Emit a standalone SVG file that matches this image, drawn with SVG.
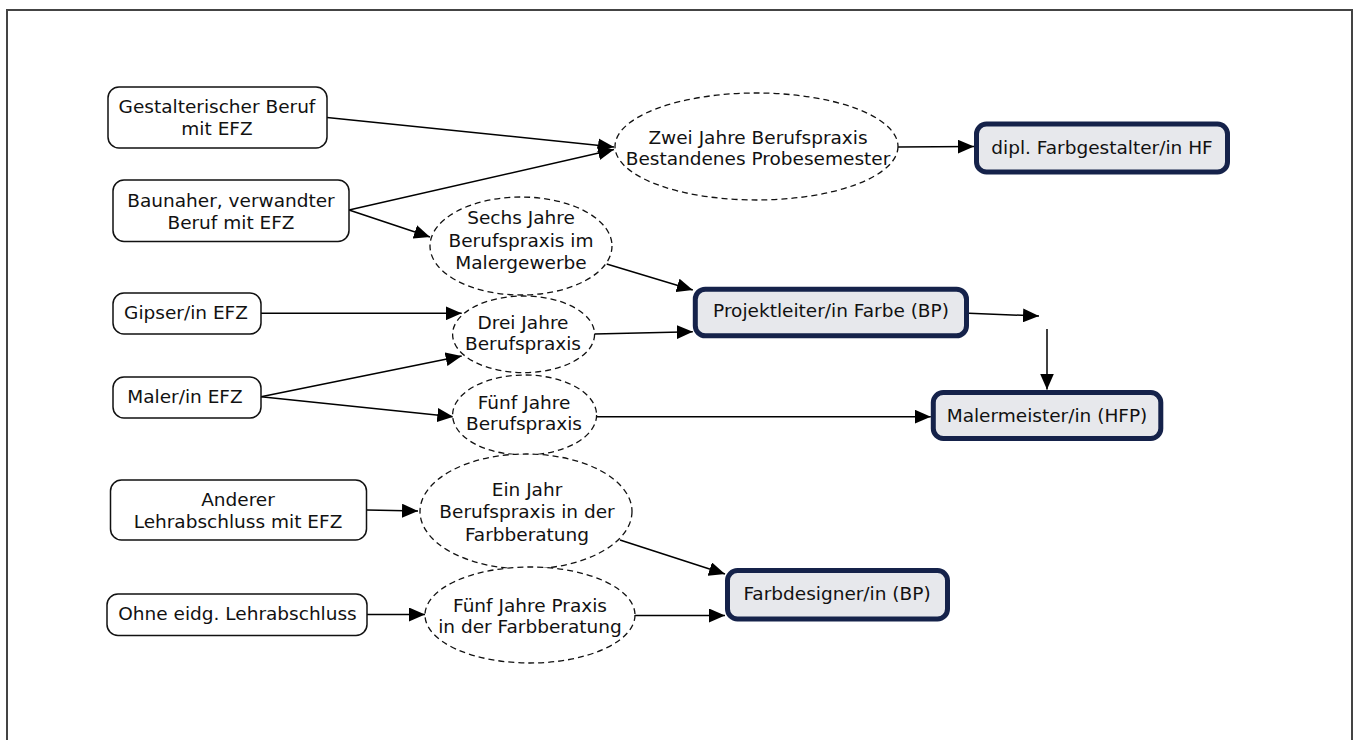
<svg xmlns="http://www.w3.org/2000/svg" width="1358" height="740" viewBox="0 0 1358 740">
<style>
  text { font-family: "DejaVu Sans", Verdana, sans-serif; font-size: 18.5px; fill: #111; text-anchor: middle; }
  .src { fill: #fff; stroke: #111; stroke-width: 1.5; }
  .cond { fill: #fff; stroke: #111; stroke-width: 1.3; stroke-dasharray: 6 4; }
  .goal { fill: #e7e8ec; stroke: #15224a; stroke-width: 5; }
  .edge { fill: none; stroke: #000; stroke-width: 1.5; marker-end: url(#arr); }
</style>
<defs>
  <marker id="arr" markerUnits="userSpaceOnUse" markerWidth="17" markerHeight="14" refX="16" refY="7" orient="auto">
    <path d="M0,0 L16,7 L0,14 z" fill="#000"/>
  </marker>
</defs>
<rect width="1358" height="740" fill="#fff"/>
<path d="M7,745 L7,10 L1352,10 L1352,745" fill="none" stroke="#444" stroke-width="2"/>

<g id="connectors">
  <path class="edge" d="M327,117.5 L614,147"/>
  <path class="edge" d="M349,210 L614,149.5"/>
  <path class="edge" d="M349,210 L430,237"/>
  <path class="edge" d="M898,147 L974,146.5"/>
  <path class="edge" d="M606.7,264 L692.8,290"/>
  <path class="edge" d="M261,313.3 L461.7,313.3"/>
  <path class="edge" d="M261,396.7 L461.7,356"/>
  <path class="edge" d="M261,396.7 L453.3,416.7"/>
  <path class="edge" d="M594.4,334 L692.8,331.7"/>
  <path class="edge" d="M969,313.3 L1039,316"/>
  <path class="edge" d="M1047,329 L1047,389.5"/>
  <path class="edge" d="M596.4,416.7 L930.8,416.7"/>
  <path class="edge" d="M367,510 L418,511"/>
  <path class="edge" d="M367,614.5 L425,614.5"/>
  <path class="edge" d="M620,540 L725,574"/>
  <path class="edge" d="M635,615.5 L725,615.5"/>
</g>

<g id="n-gestalterisch">
  <rect class="src" x="108" y="87" width="219" height="61" rx="11"/>
  <text x="217" y="113">Gestalterischer Beruf</text>
  <text x="217" y="135">mit EFZ</text>
</g>
<g id="n-baunaher">
  <rect class="src" x="113" y="180" width="236" height="61.5" rx="11"/>
  <text x="231" y="207">Baunaher, verwandter</text>
  <text x="231" y="229">Beruf mit EFZ</text>
</g>
<g id="n-gipser">
  <rect class="src" x="113" y="293" width="148" height="41" rx="11"/>
  <text x="186" y="319">Gipser/in EFZ</text>
</g>
<g id="n-maler">
  <rect class="src" x="113" y="377" width="148" height="41" rx="11"/>
  <text x="185" y="403">Maler/in EFZ</text>
</g>
<g id="n-anderer">
  <rect class="src" x="110.5" y="480" width="256" height="60" rx="11"/>
  <text x="238" y="505.5">Anderer</text>
  <text x="238" y="527.5">Lehrabschluss mit EFZ</text>
</g>
<g id="n-ohne">
  <rect class="src" x="107" y="594" width="260" height="41.5" rx="11"/>
  <text x="237.5" y="620">Ohne eidg. Lehrabschluss</text>
</g>

<g id="c-zwei">
  <ellipse class="cond" cx="756.5" cy="146.5" rx="141.5" ry="53.5"/>
  <text x="758" y="144">Zwei Jahre Berufspraxis</text>
  <text x="758" y="165">Bestandenes Probesemester</text>
</g>
<g id="c-sechs">
  <ellipse class="cond" cx="521" cy="246" rx="91" ry="49"/>
  <text x="521" y="224">Sechs Jahre</text>
  <text x="521" y="246.5">Berufspraxis im</text>
  <text x="521" y="269">Malergewerbe</text>
</g>
<g id="c-drei">
  <ellipse class="cond" cx="523.6" cy="334.3" rx="71" ry="38.3"/>
  <text x="523" y="328.5">Drei Jahre</text>
  <text x="523" y="350">Berufspraxis</text>
</g>
<g id="c-fuenf">
  <ellipse class="cond" cx="524.6" cy="415" rx="72" ry="40"/>
  <text x="524" y="408.5">Fünf Jahre</text>
  <text x="524" y="430">Berufspraxis</text>
</g>
<g id="c-einjahr">
  <ellipse class="cond" cx="526" cy="511.5" rx="106" ry="57.5"/>
  <text x="527" y="496">Ein Jahr</text>
  <text x="527" y="518">Berufspraxis in der</text>
  <text x="527" y="540.5">Farbberatung</text>
</g>
<g id="c-fuenfpraxis">
  <ellipse class="cond" cx="530" cy="615" rx="105" ry="48"/>
  <text x="530" y="611.5">Fünf Jahre Praxis</text>
  <text x="530" y="632.5">in der Farbberatung</text>
</g>

<g id="g-dipl">
  <rect class="goal" x="976.5" y="124" width="251" height="48" rx="10"/>
  <text x="1102" y="153.5">dipl. Farbgestalter/in HF</text>
</g>
<g id="g-projektleiter">
  <rect class="goal" x="695.3" y="289.2" width="271.2" height="46.6" rx="10"/>
  <text x="831" y="317">Projektleiter/in Farbe (BP)</text>
</g>
<g id="g-malermeister">
  <rect class="goal" x="933.3" y="392.5" width="227.5" height="46" rx="10"/>
  <text x="1047" y="422">Malermeister/in (HFP)</text>
</g>
<g id="g-farbdesigner">
  <rect class="goal" x="727.5" y="570.5" width="220" height="48.5" rx="10"/>
  <text x="837" y="600">Farbdesigner/in (BP)</text>
</g>
</svg>
